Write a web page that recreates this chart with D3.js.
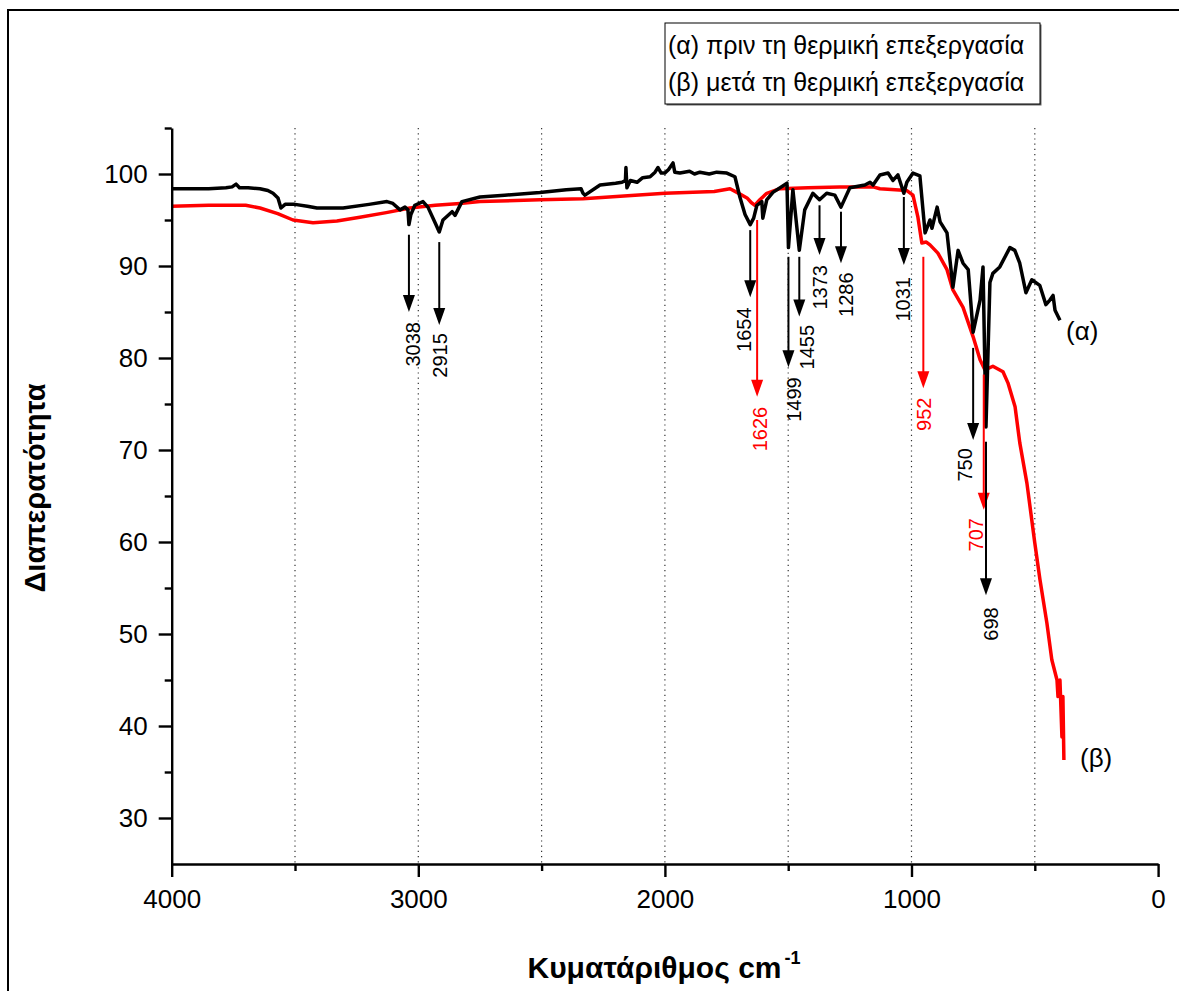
<!DOCTYPE html>
<html>
<head>
<meta charset="utf-8">
<script src="https://cdn.jsdelivr.net/npm/d3@7"></script>
<style>
  html, body { margin: 0; padding: 0; background: #fff; }
  svg { display: block; font-family: "Liberation Sans", Arial, Helvetica, sans-serif; }
</style>
</head>
<body>
<svg id="chart" width="1179" height="991"></svg>
<script>
// FTIR spectrum (α): before heat treatment — wavenumber (cm-1) and transmittance (%)
const wavenumberA = [4000, 3850, 3780, 3755, 3739, 3725, 3690, 3642, 3610, 3589, 3569, 3557, 3540, 3500, 3450, 3411, 3350, 3305, 3200, 3127, 3103, 3074, 3054, 3042, 3038, 3030, 3014, 2981, 2961, 2930, 2915, 2900, 2863, 2851, 2823, 2750, 2650, 2507, 2400, 2340, 2332, 2324, 2263, 2200, 2174, 2160, 2158, 2154, 2140, 2113, 2090, 2060, 2040, 2028, 2015, 2000, 1985, 1967, 1960, 1939, 1900, 1880, 1858, 1820, 1790, 1749, 1716, 1696, 1675, 1654, 1640, 1627, 1607, 1603, 1587, 1562, 1505, 1499, 1481, 1455, 1433, 1400, 1373, 1344, 1311, 1286, 1250, 1189, 1168, 1156, 1128, 1095, 1075, 1055, 1031, 1019, 994, 966, 945, 925, 917, 896, 884, 856, 832, 811, 791, 770, 750, 722, 710, 698, 682, 670, 642, 601, 581, 561, 536, 512, 480, 455, 439, 426, 418, 398];
const transA = [98.4, 98.4, 98.5, 98.6, 98.9, 98.5, 98.5, 98.4, 98.2, 97.9, 97.4, 96.3, 96.7, 96.7, 96.5, 96.3, 96.3, 96.3, 96.7, 97.0, 96.8, 96.1, 96.4, 96.1, 94.5, 95.6, 96.6, 97.0, 96.4, 94.6, 93.7, 95.0, 95.9, 95.5, 97.0, 97.5, 97.7, 98.0, 98.3, 98.4, 97.9, 97.7, 98.8, 99.0, 99.1, 99.3, 100.7, 98.5, 99.3, 99.1, 99.6, 99.7, 100.2, 100.7, 100.1, 100.1, 100.5, 101.2, 100.2, 100.1, 100.3, 100.0, 100.2, 100.0, 100.2, 100.1, 99.7, 97.5, 95.6, 94.5, 95.2, 96.6, 97.0, 95.2, 97.2, 98.0, 99.0, 92.0, 98.3, 91.7, 96.1, 97.9, 97.2, 97.9, 97.7, 96.4, 98.5, 98.8, 99.1, 98.8, 99.9, 100.1, 99.3, 99.9, 97.9, 99.1, 100.1, 99.8, 93.6, 95.0, 94.1, 96.4, 94.8, 93.6, 87.7, 91.7, 90.3, 89.6, 82.8, 86.3, 89.9, 72.5, 88.2, 89.2, 89.9, 92.0, 91.7, 90.3, 87.1, 88.5, 87.9, 85.8, 86.3, 86.8, 85.2, 84.1];

// FTIR spectrum (β): after heat treatment
const wavenumberB = [4000, 3850, 3700, 3642, 3570, 3508, 3427, 3330, 3237, 3130, 3034, 2931, 2831, 2750, 2507, 2332, 2000, 1800, 1736, 1708, 1667, 1650, 1635, 1615, 1587, 1534, 1420, 1291, 1156, 1128, 1019, 994, 974, 958, 940, 925, 893, 856, 832, 791, 750, 722, 702, 670, 629, 609, 580, 561, 532, 500, 479, 451, 431, 410, 406, 398, 390, 386, 382];
const transB = [96.5, 96.6, 96.6, 96.3, 95.7, 95.0, 94.7, 94.9, 95.3, 95.8, 96.3, 96.6, 96.8, 97.0, 97.2, 97.3, 97.9, 98.1, 98.4, 98.0, 97.4, 96.9, 96.6, 97.2, 97.9, 98.4, 98.5, 98.6, 98.6, 98.4, 98.2, 97.7, 95.3, 92.5, 92.6, 92.3, 91.4, 89.6, 87.4, 85.5, 82.3, 79.8, 78.7, 79.1, 78.5, 77.3, 74.7, 70.8, 66.4, 59.9, 55.9, 51.2, 47.2, 45.0, 43.2, 45.0, 38.8, 43.2, 36.3];

const xTickValues = [4000, 3000, 2000, 1000, 0];
const xMinorTickValues = [3500, 2500, 1500, 500];
const xGridValues = [3500, 3000, 2500, 2000, 1500, 1000, 500];
const yTickValues = [30, 40, 50, 60, 70, 80, 90, 100];
const yMinorTickValues = [35, 45, 55, 65, 75, 85, 95, 105];

// Assigned absorption bands and the curve each belongs to
const peakWavenumbers = [3038, 2915, 1654, 1626, 1499, 1455, 1373, 1286, 1031, 952, 750, 707, 698];
const peakSeries = ["α", "α", "α", "β", "α", "α", "α", "α", "α", "β", "α", "β", "α"];

// Arrow extents (in transmittance units) and label offsets for each band
const peakArrowFrom = [93.4, 92.6, 93.9, 95.0, 91.0, 91.0, 96.6, 95.9, 97.5, 91.0, 81.1, 78.2, 70.9];
const peakArrowTo = [85.0, 83.6, 86.6, 75.8, 79.0, 84.5, 91.2, 90.3, 90.1, 76.7, 71.1, 63.5, 54.2];
const peakLabelAt = [83.9, 82.7, 85.5, 74.7, 77.9, 83.6, 90.1, 89.3, 88.8, 75.7, 70.2, 62.6, 52.9];
const peakLabelShift = [4, 1, -6, 3, 6, 8, 0, 5, -1, 1, -8, -8, 5];

const legendLabels = ["(α) πριν τη θερμική επεξεργασία", "(β) μετά τη θερμική επεξεργασία"];
const seriesTags = ["(α)", "(β)"];
const seriesColors = { "α": "#000000", "β": "#ff0000" };
const xTitle = "Κυματάριθμος cm";
const xTitleSup = "-1";
const yTitle = "Διαπερατότητα";

const svg = d3.select("#chart");

const x = d3.scaleLinear().domain([4000, 0]).range([171.7, 1158.1]);
const y = d3.scaleLinear().domain([25, 105]).range([864, 128]);

// outer frame
svg.append("path")
  .attr("d", "M8,991 V10 H1179")
  .attr("fill", "none")
  .attr("stroke", "#000")
  .attr("stroke-width", 2);

// dotted vertical grid
svg.append("g").selectAll("line")
  .data(xGridValues)
  .join("line")
  .attr("x1", d => x(d)).attr("x2", d => x(d))
  .attr("y1", y(105)).attr("y2", y(25))
  .attr("stroke", "#333")
  .attr("stroke-width", 1.2)
  .attr("stroke-dasharray", "1.2,4");

// curves
const line = d3.line().x(d => x(d[0])).y(d => y(d[1])).curve(d3.curveLinear);
const dataA = wavenumberA.map((w, i) => [w, transA[i]]);
const dataB = wavenumberB.map((w, i) => [w, transB[i]]);

svg.append("path").datum(dataB)
  .attr("d", line)
  .attr("fill", "none")
  .attr("stroke", seriesColors["β"])
  .attr("stroke-width", 3.5)
  .attr("stroke-linejoin", "round");

svg.append("path").datum(dataA)
  .attr("d", line)
  .attr("fill", "none")
  .attr("stroke", seriesColors["α"])
  .attr("stroke-width", 3.5)
  .attr("stroke-linejoin", "round");

// axes
svg.append("g").attr("transform", `translate(${x(4000)},0)`)
  .call(d3.axisLeft(y).tickValues(yTickValues).tickSize(13).tickSizeOuter(0).tickPadding(11).tickFormat(d3.format("d")));
svg.append("g").attr("transform", `translate(${x(4000)},0)`)
  .call(d3.axisLeft(y).tickValues(yMinorTickValues).tickSize(7).tickSizeOuter(0).tickFormat(""))
  .select(".domain").remove();

svg.append("g").attr("transform", `translate(0,${y(25)})`)
  .call(d3.axisBottom(x).tickValues(xTickValues).tickSize(13).tickSizeOuter(0).tickPadding(13).tickFormat(d3.format("d")));
svg.append("g").attr("transform", `translate(0,${y(25)})`)
  .call(d3.axisBottom(x).tickValues(xMinorTickValues).tickSize(7).tickSizeOuter(0).tickFormat(""))
  .select(".domain").remove();

svg.selectAll(".domain").attr("stroke-width", 2.4).attr("stroke", "#000");
svg.selectAll(".tick line").attr("stroke-width", 2.4).attr("stroke", "#000");
svg.selectAll(".tick text")
  .attr("font-family", "\"Liberation Sans\", Arial, sans-serif")
  .attr("font-size", 26)
  .attr("fill", "#000");

// axis titles
svg.append("text")
  .attr("transform", `translate(45,488) rotate(-90)`)
  .attr("text-anchor", "middle")
  .attr("font-size", 29)
  .attr("font-weight", "bold")
  .text(yTitle);

const xt = svg.append("text")
  .attr("x", 664)
  .attr("y", 978)
  .attr("text-anchor", "middle")
  .attr("font-size", 30)
  .attr("font-weight", "bold");
xt.append("tspan").text(xTitle);
xt.append("tspan").attr("font-size", 18).attr("dy", -14).attr("dx", 3).text(xTitleSup);

// peak annotations
const peaks = svg.append("g");
peakWavenumbers.forEach((wn, i) => {
  const c = seriesColors[peakSeries[i]];
  const px = x(wn);
  const y0 = y(peakArrowFrom[i]);
  const y1 = y(peakArrowTo[i]);
  peaks.append("line")
    .attr("x1", px).attr("x2", px)
    .attr("y1", y0).attr("y2", y1 - 10)
    .attr("stroke", c).attr("stroke-width", 2);
  peaks.append("path")
    .attr("d", `M${px - 6},${y1 - 17} L${px + 6},${y1 - 17} L${px},${y1} Z`)
    .attr("fill", c);
  peaks.append("text")
    .attr("transform", `translate(${px + peakLabelShift[i]},${y(peakLabelAt[i])}) rotate(-90)`)
    .attr("text-anchor", "end")
    .attr("dominant-baseline", "central")
    .attr("font-size", 20)
    .attr("fill", c)
    .text(wn);
});

// curve tags at the low-wavenumber ends
svg.append("text")
  .attr("x", 1066).attr("y", 340)
  .attr("font-size", 26)
  .text(seriesTags[0]);
svg.append("text")
  .attr("x", 1080).attr("y", 767)
  .attr("font-size", 26)
  .text(seriesTags[1]);

// legend
const lg = svg.append("g");
lg.append("rect")
  .attr("x", 666.5).attr("y", 24.5)
  .attr("width", 375).attr("height", 81)
  .attr("fill", "#666");
lg.append("rect")
  .attr("x", 665).attr("y", 23)
  .attr("width", 375).attr("height", 81)
  .attr("fill", "#fff")
  .attr("stroke", "#000")
  .attr("stroke-width", 1);
lg.selectAll("text")
  .data(legendLabels)
  .join("text")
  .attr("x", 668)
  .attr("y", (d, i) => 54 + i * 37)
  .attr("font-size", 25)
  .text(d => d);
</script>
</body>
</html>
